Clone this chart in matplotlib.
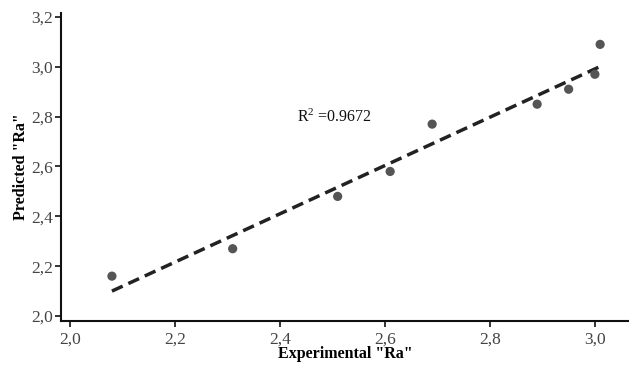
import matplotlib
matplotlib.use("Agg")
import matplotlib.pyplot as plt
import matplotlib.ticker as mticker

# data
experimental_ra = [2.08, 2.31, 2.51, 2.61, 2.69, 2.89, 2.95, 3.00, 3.01]
predicted_ra = [2.16, 2.27, 2.48, 2.58, 2.77, 2.85, 2.91, 2.97, 3.09]
fit_x = [2.08, 3.013]
fit_y = [2.10, 3.004]
r2_label = r"R$^{2}$ =0.9672"
x_ticks = [2.0, 2.2, 2.4, 2.6, 2.8, 3.0]
y_ticks = [2.0, 2.2, 2.4, 2.6, 2.8, 3.0, 3.2]

plt.rcParams["font.family"] = ["Liberation Serif", "DejaVu Serif"]
plt.rcParams["mathtext.fontset"] = "custom"
plt.rcParams["mathtext.rm"] = "Liberation Serif"
plt.rcParams["mathtext.it"] = "Liberation Serif:italic"


def comma_fmt(v, pos):
    return f"{v:.1f}".replace(".", ",")


fig = plt.figure(figsize=(6.29, 3.67), dpi=100)
ax = fig.add_axes([0.097, 0.126, 0.903, 0.838])

ax.plot(fit_x, fit_y, color="#222222", lw=2.5, dashes=(3.4, 1.8), zorder=2)
ax.scatter(experimental_ra, predicted_ra, s=44, color="#555555", edgecolors="none", zorder=3)

ax.text(2.432, 2.796, r2_label, fontsize=11.5, va="center", ha="left", color="#111111")

ax.set_xlim(1.983, 3.065)
ax.set_ylim(1.981, 3.215)
ax.xaxis.set_major_locator(mticker.FixedLocator(x_ticks))
ax.yaxis.set_major_locator(mticker.FixedLocator(y_ticks))
ax.xaxis.set_major_formatter(mticker.FuncFormatter(comma_fmt))
ax.yaxis.set_major_formatter(mticker.FuncFormatter(comma_fmt))

for side in ("top", "right"):
    ax.spines[side].set_visible(False)
for side in ("left", "bottom"):
    ax.spines[side].set_linewidth(1.5)
    ax.spines[side].set_color("#111111")

ax.tick_params(direction="out", length=4, width=1.2, labelsize=12.5, colors="#111111", labelcolor="#444444")
ax.tick_params(axis="x", pad=4)
ax.tick_params(axis="y", pad=2)

ax.set_xlabel('Experimental "Ra"', fontsize=11.5, fontweight="bold", labelpad=-1)
ax.set_ylabel('Predicted "Ra"', fontsize=11.5, fontweight="bold", labelpad=1)

fig.savefig("out.png", dpi=100)
